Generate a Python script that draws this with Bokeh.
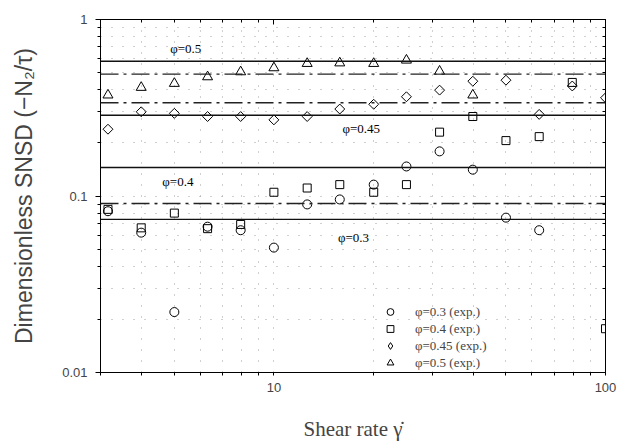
import math
from bokeh.plotting import figure
from bokeh.models import (FixedTicker, LogAxis, Span, Label, Legend, LegendItem,
                          CustomJSTickFormatter)
from bokeh.embed import file_html
from bokeh.resources import INLINE

# ---------------- data ----------------
shear_rate = [3.16, 3.98, 5.01, 6.31, 7.94, 10.0, 12.6, 15.8, 20.0, 25.1,
              31.6, 39.8, 50.1, 63.1, 79.4, 100.0]
snsd_phi03 = [0.082, 0.062, 0.022, 0.067, 0.064, 0.051, 0.0896, 0.0956, 0.116,
              0.147, 0.179, 0.141, 0.0754, 0.064]
snsd_phi04 = [0.084, 0.066, 0.080, 0.0653, 0.069, 0.105, 0.111, 0.116, 0.105,
              0.116, 0.23, 0.282, 0.206, 0.217, 0.44, 0.0177]
snsd_phi045 = [0.239, 0.30, 0.294, 0.282, 0.282, 0.270, 0.282, 0.311, 0.331,
               0.365, 0.398, 0.447, 0.453, 0.29, 0.42, 0.36]
snsd_phi05 = [0.373, 0.412, 0.434, 0.473, 0.505, 0.532, 0.563, 0.567, 0.563,
              0.588, 0.509, 0.373]

model_solid = [0.58, 0.287, 0.145, 0.0737]      # phi = 0.5, 0.45, 0.4, 0.3
model_dashdot = [0.49, 0.3375, 0.0907]

curve_labels = ["φ=0.5", "φ=0.45", "φ=0.4", "φ=0.3"]
curve_label_x = [4.87, 16.1, 4.61, 15.6]
curve_label_y = [0.686, 0.24, 0.121, 0.0585]

legend_labels = ["φ=0.3 (exp.)", "φ=0.4 (exp.)", "φ=0.45 (exp.)", "φ=0.5 (exp.)"]

x_major = [10, 100]
x_minor = [3, 4, 5, 6, 7, 8, 9, 20, 30, 40, 50, 60, 70, 80, 90]
y_major = [0.01, 0.1, 1]
y_minor = [0.02, 0.03, 0.04, 0.05, 0.06, 0.07, 0.08, 0.09,
           0.2, 0.3, 0.4, 0.5, 0.6, 0.7, 0.8, 0.9]

# ---------------- figure ----------------
p = figure(width=617, height=443, x_axis_type="log", y_axis_type="log",
           x_range=(3, 100), y_range=(0.01, 1),
           output_backend="svg", toolbar_location=None)
p.min_border = 0
p.min_border_left = 100
p.min_border_top = 19
p.min_border_right = 12
p.min_border_bottom = 70
p.outline_line_color = "black"
p.outline_line_width = 1
p.background_fill_color = "white"
p.border_fill_color = "white"

xt = FixedTicker(ticks=x_major, minor_ticks=x_minor)
yt = FixedTicker(ticks=y_major, minor_ticks=y_minor)
fmt = CustomJSTickFormatter(code="return String(tick);")

ax = p.xaxis[0]
ax.ticker = xt
ax.formatter = fmt
ax.axis_label = "Shear rate γ̇"
ax.axis_label_text_font = "Liberation Serif"
ax.axis_label_text_font_style = "normal"
ax.axis_label_text_font_size = "21px"
ax.axis_label_standoff = 22
ax.major_label_text_font = "Liberation Sans"
ax.major_label_text_font_size = "13px"
ax.major_label_standoff = 7
ax.major_tick_out = 3
ax.major_tick_in = 0
ax.minor_tick_out = 3
ax.minor_tick_in = 0
ax.axis_line_color = "black"

ay = p.yaxis[0]
ay.ticker = yt
ay.formatter = fmt
ay.axis_label = "Dimensionless SNSD (−N₂/τ)"
ay.axis_label_text_font = "Liberation Sans"
ay.axis_label_text_font_style = "normal"
ay.axis_label_text_font_size = "23px"
ay.axis_label_standoff = 22
ay.major_label_text_font = "Liberation Sans"
ay.major_label_text_font_size = "13px"
ay.major_label_standoff = 8
ay.major_tick_out = 5
ay.major_tick_in = 0
ay.minor_tick_out = 3
ay.minor_tick_in = 0
ay.axis_line_color = "black"

empty_fmt = CustomJSTickFormatter(code="return '';")
for loc, tk in (("above", xt), ("right", yt)):
    a = LogAxis(ticker=tk, formatter=empty_fmt, major_tick_in=5, major_tick_out=0,
                minor_tick_in=3, minor_tick_out=0, major_label_standoff=0,
                major_label_text_font_size="0px", axis_line_color="black")
    p.add_layout(a, loc)

# dotted grid at all ticks
for g, tk in ((p.xgrid[0], xt), (p.ygrid[0], yt)):
    g.ticker = tk
    g.grid_line_color = "#a0a0a0"
    g.grid_line_dash = "1 10"
    g.grid_line_width = 1
    g.minor_grid_line_color = "#a0a0a0"
    g.minor_grid_line_dash = "1 10"
    g.minor_grid_line_width = 1

# model lines
for v in model_solid:
    p.add_layout(Span(location=v, dimension="width", line_color="#111111",
                      line_width=1.4))
for v in model_dashdot:
    p.add_layout(Span(location=v, dimension="width", line_color="#222222",
                      line_width=1.3, line_dash="18 5 3 5"))

for t, x, y in zip(curve_labels, curve_label_x, curve_label_y):
    p.add_layout(Label(x=x, y=y, text=t, text_font="Liberation Serif",
                       text_font_size="13px", text_baseline="middle",
                       text_align="left", text_color="black"))

# experimental points
common = dict(fill_color=None, line_color="black", line_width=1)
r03 = p.scatter(shear_rate[:len(snsd_phi03)], snsd_phi03, marker="circle", size=9, **common)
r04 = p.scatter(shear_rate[:len(snsd_phi04)], snsd_phi04, marker="square", size=8, **common)
p.scatter(shear_rate[:len(snsd_phi045)], snsd_phi045, marker="square",
          angle=math.pi / 4, size=7, **common)
r05 = p.scatter(shear_rate[:len(snsd_phi05)], snsd_phi05, marker="triangle", size=10, **common)
# hidden copy used only to draw the diamond key in the legend
r045_key = p.scatter(shear_rate[:len(snsd_phi045)], snsd_phi045, marker="diamond",
                     size=13, visible=False, **common)

legend = Legend(items=[LegendItem(label=l, renderers=[r]) for l, r in
                       zip(legend_labels, [r03, r04, r045_key, r05])],
                location=(280, 1), orientation="vertical",
                border_line_color=None, background_fill_alpha=0,
                inactive_fill_alpha=0,
                label_text_font="Liberation Serif", label_text_font_size="13px",
                glyph_width=20, glyph_height=17, label_height=17,
                label_standoff=15, spacing=0, padding=0, margin=0)
p.add_layout(legend)

open("out.html", "w").write(file_html(p, INLINE))
